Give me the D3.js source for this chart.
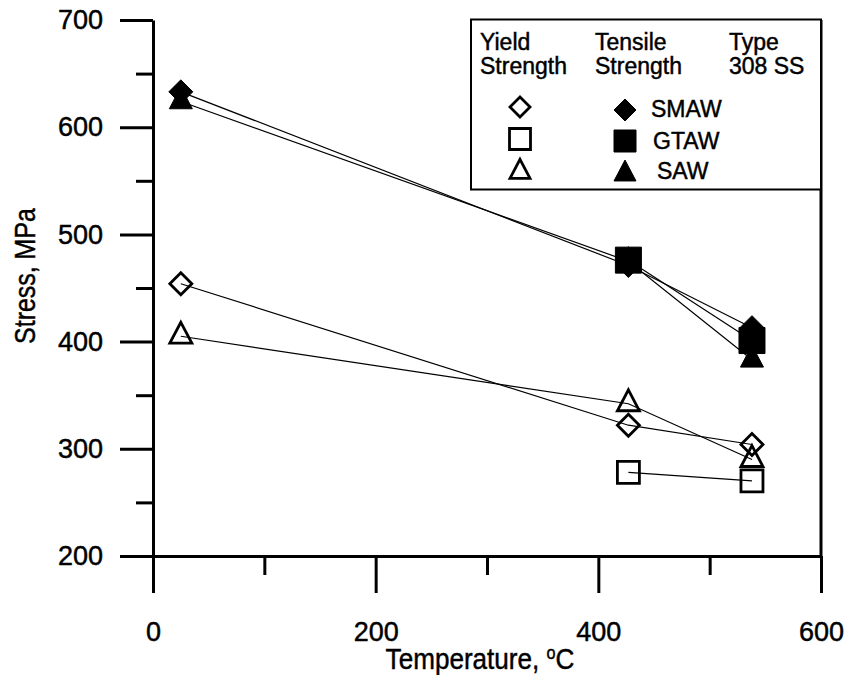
<!DOCTYPE html>
<html>
<head>
<meta charset="utf-8">
<script src="https://cdn.jsdelivr.net/npm/d3@7/dist/d3.min.js"></script>
<style>
  html, body { margin: 0; padding: 0; background: #fff; }
  svg { display: block; }
  text { font-family: "Liberation Sans", Arial, Helvetica, sans-serif; fill: #000; stroke: #000; stroke-width: 0.45px; }
</style>
</head>
<body>
<svg id="chart" width="846" height="675"></svg>
<script>
// ---- data ----
const temps = [25, 427, 538];
const smawTensile = [633, 471, 413];
const gtawTensile = [null, 476, 401];
const sawTensile = [624, 475, 383];
const smawYield = [454, 322, 304];
const gtawYield = [null, 278, 270];
const sawYield = [405, 342, 290];

const xMajorTicks = [0, 200, 400, 600];
const xMinorTicks = [100, 300, 500];
const yMajorTicks = [200, 300, 400, 500, 600, 700];
const yMinorTicks = [250, 350, 450, 550, 650];

const xTitle = "Temperature, ";
const yTitle = "Stress, MPa";

const legendHeaders = [["Yield", "Strength"], ["Tensile", "Strength"], ["Type", "308 SS"]];
const legendLabels = ["SMAW", "GTAW", "SAW"];
const shapes = ["diamond", "square", "triangle"];

// ---- layout ----
const svg = d3.select("#chart");
const x = d3.scaleLinear().domain([0, 600]).range([153, 821]);
const y = d3.scaleLinear().domain([200, 700]).range([556, 20]);

function markerPath(shape, s) {
  if (shape === "diamond") {
    return `M0,${-s}L${s},0L0,${s}L${-s},0Z`;
  } else if (shape === "square") {
    return `M${-s},${-s}H${s}V${s}H${-s}Z`;
  } else {
    const h = s * 1.9;
    return `M0,${-h * 2 / 3}L${s},${h / 3}L${-s},${h / 3}Z`;
  }
}

// ---- axes ----
const gY = svg.append("g").attr("transform", `translate(${x(0)},0)`);
gY.call(d3.axisLeft(y).tickValues(yMajorTicks).tickSize(33).tickSizeOuter(0).tickPadding(17).tickFormat(d3.format("d")));
const gYm = svg.append("g").attr("transform", `translate(${x(0)},0)`);
gYm.call(d3.axisLeft(y).tickValues(yMinorTicks).tickSize(17).tickSizeOuter(0).tickFormat(""));

const gX = svg.append("g").attr("transform", `translate(0,${y(200)})`);
gX.call(d3.axisBottom(x).tickValues(xMajorTicks).tickSize(37).tickSizeOuter(0).tickPadding(29).tickFormat(d3.format("d")));
const gXm = svg.append("g").attr("transform", `translate(0,${y(200)})`);
gXm.call(d3.axisBottom(x).tickValues(xMinorTicks).tickSize(19).tickSizeOuter(0).tickFormat(""));

svg.selectAll(".domain").attr("stroke", "#000").attr("stroke-width", 3);
svg.selectAll(".tick line").attr("stroke", "#000").attr("stroke-width", 3);
svg.selectAll(".tick text")
  .attr("font-size", 27)
  .attr("font-family", "Liberation Sans, Arial, sans-serif")
  .attr("fill", "#000");
gYm.selectAll(".domain").remove();
gXm.selectAll(".domain").remove();

// right spine
svg.append("line")
  .attr("x1", x(600)).attr("x2", x(600))
  .attr("y1", y(700)).attr("y2", y(200))
  .attr("stroke", "#000").attr("stroke-width", 3);

// axis titles
const xt = svg.append("text")
  .attr("transform", "translate(480,669) scale(0.9,1)")
  .attr("text-anchor", "middle")
  .attr("font-size", 29);
xt.append("tspan").text(xTitle);
xt.append("tspan").attr("font-size", 18).attr("dy", -10).text("o");
xt.append("tspan").attr("dy", 10).text("C");

svg.append("text")
  .attr("transform", `translate(35,276) rotate(-90) scale(0.86,1)`)
  .attr("text-anchor", "middle")
  .attr("font-size", 29)
  .text(yTitle);

// ---- series ----
const series = [
  { vals: smawTensile, shape: "diamond", filled: true, size: 12 },
  { vals: gtawTensile, shape: "square", filled: true, size: 13 },
  { vals: sawTensile, shape: "triangle", filled: true, size: 11.5 },
  { vals: smawYield, shape: "diamond", filled: false, size: 11 },
  { vals: gtawYield, shape: "square", filled: false, size: 11 },
  { vals: sawYield, shape: "triangle", filled: false, size: 11 }
];

const line = d3.line()
  .x(d => x(d[0]))
  .y(d => y(d[1]));

series.forEach(s => {
  const pts = temps.map((t, i) => [t, s.vals[i]]).filter(p => p[1] != null);
  svg.append("path")
    .attr("d", line(pts))
    .attr("fill", "none")
    .attr("stroke", "#000")
    .attr("stroke-width", 1.2);
});

series.forEach(s => {
  const pts = temps.map((t, i) => [t, s.vals[i]]).filter(p => p[1] != null);
  svg.selectAll(null).data(pts).enter().append("path")
    .attr("transform", d => `translate(${x(d[0])},${y(d[1])})`)
    .attr("d", markerPath(s.shape, s.size))
    .attr("fill", s.filled ? "#000" : "none")
    .attr("stroke", "#000")
    .attr("stroke-width", s.filled ? 1 : 2.8)
    .attr("stroke-linejoin", "miter");
});

// ---- legend ----
const lg = svg.append("g");
lg.append("rect")
  .attr("x", 471).attr("y", 19.5)
  .attr("width", 350).attr("height", 170)
  .attr("fill", "#fff")
  .attr("stroke", "#000").attr("stroke-width", 2);

const headerX = [480, 595, 729];
legendHeaders.forEach((h, i) => {
  lg.append("text").attr("x", headerX[i]).attr("y", 50).attr("font-size", 23).text(h[0]);
  lg.append("text").attr("x", headerX[i]).attr("y", 74).attr("font-size", 23).text(h[1]);
});

const rowY = [107, 139, 172];
shapes.forEach((sh, i) => {
  lg.append("path")
    .attr("transform", `translate(520,${rowY[i]})`)
    .attr("d", markerPath(sh, sh === "square" ? 10.5 : 10))
    .attr("fill", "none").attr("stroke", "#000").attr("stroke-width", 2.8);
  lg.append("path")
    .attr("transform", `translate(625,${rowY[i] + (i === 0 ? 3 : 2)})`)
    .attr("d", markerPath(sh, 11))
    .attr("fill", "#000").attr("stroke", "#000").attr("stroke-width", 1);
});
const labelX = [651, 653, 657];
const labelY = [117, 149, 179];
legendLabels.forEach((t, i) => {
  lg.append("text").attr("x", labelX[i]).attr("y", labelY[i]).attr("font-size", 23).text(t);
});
</script>
</body>
</html>
